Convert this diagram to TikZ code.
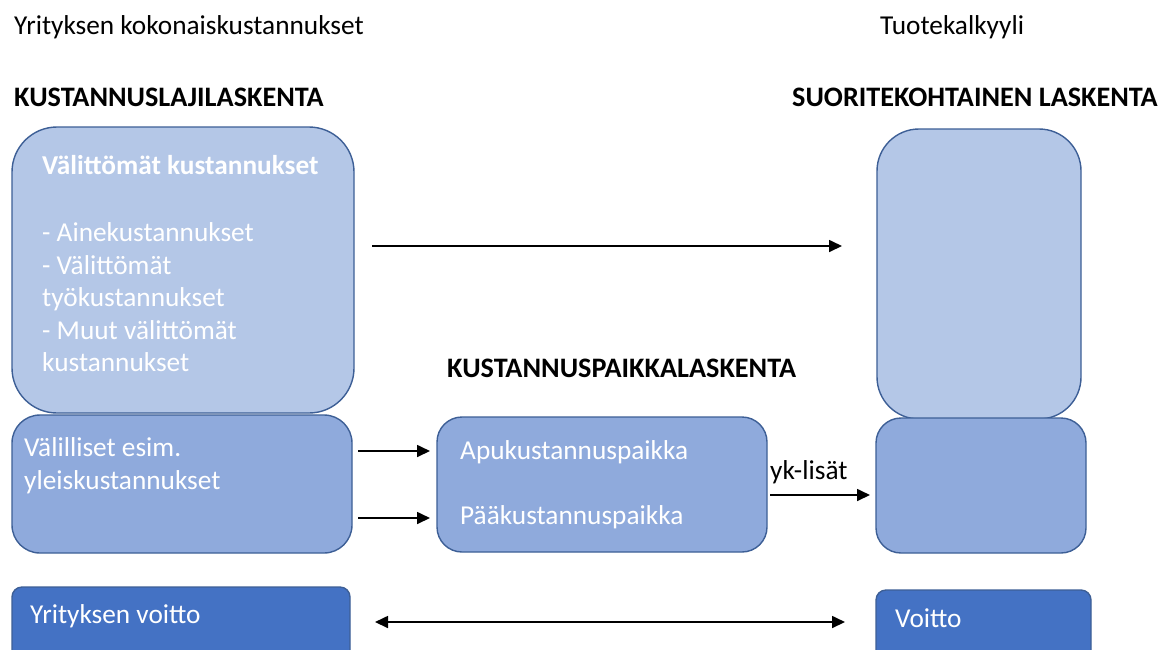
\documentclass[tikz,border=0pt]{standalone}
\usepackage{fontspec}
\setmainfont{Carlito}
\usetikzlibrary{arrows.meta}
\definecolor{lightb}{HTML}{B4C7E7}
\definecolor{midb}{HTML}{8FAADC}
\definecolor{darkb}{HTML}{4472C4}
\definecolor{edgeb}{HTML}{3D5F96}
\tikzset{
  box/.style={draw=edgeb, line width=1.4pt, inner sep=0pt, outer sep=0pt},
  txt/.style={anchor=base west, inner sep=0pt, font=\fontsize{27.3}{32}\selectfont},
  wtxt/.style={txt, text=white},
  htxt/.style={txt, font=\fontsize{28.2}{32}\selectfont\bfseries},
  arr/.style={line width=1.7pt, -{Triangle[length=13pt,width=12pt]}},
  darr/.style={line width=1.7pt, {Triangle[length=13pt,width=12pt]}-{Triangle[length=13pt,width=12pt]}}
}
\begin{document}
\begin{tikzpicture}[x=1pt,y=-1pt]
\useasboundingbox (0,0) rectangle (1169,649);
\clip (0,0) rectangle (1169,649);
\fill[white] (0,0) rectangle (1169,649);
% boxes
\node[box, fill=lightb, rounded corners=45pt, minimum width=342pt, minimum height=286pt] (A) at (183,270) {};
\node[box, fill=midb, rounded corners=28pt, minimum width=340pt, minimum height=138pt] (B) at (182,484) {};
\node[box, fill=darkb, rounded corners=10pt, minimum width=338pt, minimum height=76pt] (C) at (181,625) {};
\node[box, fill=midb, rounded corners=25pt, minimum width=330pt, minimum height=135pt] (D) at (602,484.5) {};
\node[box, fill=lightb, rounded corners=42pt, minimum width=204pt, minimum height=290pt] (E) at (979,274) {};
\node[box, fill=midb, rounded corners=25pt, minimum width=210pt, minimum height=135pt] (F) at (981,485.5) {};
\node[box, fill=darkb, rounded corners=10pt, minimum width=215pt, minimum height=76pt] (G) at (983.5,628) {};
% headings
\node[txt] (t1) at (14,34) {Yrityksen kokonaiskustannukset};
\node[txt] (t2) at (880,34) {Tuotekalkyyli};
\node[htxt] (h1) at (14,106) {KUSTANNUSLAJILASKENTA};
\node[htxt] (h2) at (792,106) {SUORITEKOHTAINEN LASKENTA};
\node[htxt] (h3) at (447,377) {KUSTANNUSPAIKKALASKENTA};
% box texts
\node[wtxt, font=\fontsize{27.3}{32}\selectfont\bfseries] (a1) at (42,174) {Välittömät kustannukset};
\node[wtxt] (a2) at (42,241) {- Ainekustannukset};
\node[wtxt] (a3) at (42,274) {- Välittömät};
\node[wtxt] (a4) at (42,306) {työkustannukset};
\node[wtxt] (a5) at (42,339) {- Muut välittömät};
\node[wtxt] (a6) at (42,371) {kustannukset};
\node[wtxt] (b1) at (24,456) {Välilliset esim.};
\node[wtxt] (b2) at (24,489) {yleiskustannukset};
\node[wtxt] (d1) at (460,459) {Apukustannuspaikka};
\node[wtxt] (d2) at (460,524) {Pääkustannuspaikka};
\node[wtxt] (c1) at (30,623) {Yrityksen voitto};
\node[wtxt] (g1) at (895,627) {Voitto};
\node[txt] (yk) at (770,479) {yk-lisät};
% connectors
\draw[arr, shorten <=18pt, shorten >=35pt] (A.east |- 0,246) -- (E.west |- 0,246);
\draw[arr, shorten <=6pt, shorten >=7pt] (B.east |- 0,451) -- (D.west |- 0,451);
\draw[arr, shorten <=6pt, shorten >=7pt] (B.east |- 0,518) -- (D.west |- 0,518);
\draw[arr, shorten <=3pt, shorten >=6pt] (D.east |- 0,495) -- (F.west |- 0,495);
\draw[darr, shorten <=25pt, shorten >=31pt] (C.east |- 0,622) -- (G.west |- 0,622);
\end{tikzpicture}
\end{document}
